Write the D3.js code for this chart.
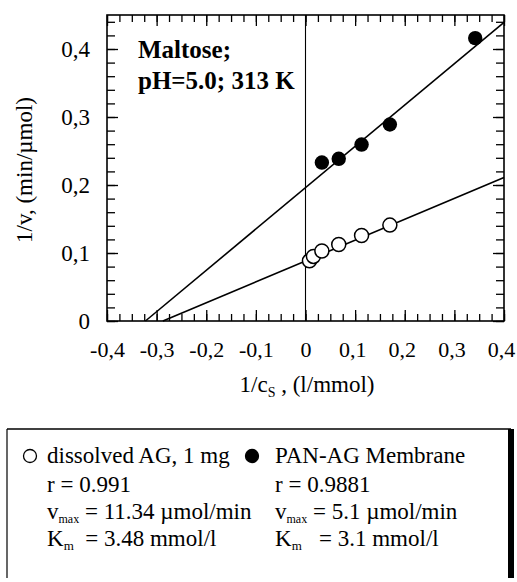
<!DOCTYPE html>
<html>
<head>
<meta charset="utf-8">
<script src="https://cdn.jsdelivr.net/npm/d3@7"></script>
<style>
  html, body { margin: 0; padding: 0; background: #fff; }
  svg { display: block; }
  text { font-family: "Liberation Serif", "Times New Roman", serif; fill: #000; }
</style>
</head>
<body>
<svg id="chart" width="517" height="582"></svg>
<script>
// ---- data ----
const dissolvedX = [0.008, 0.016, 0.033, 0.067, 0.113, 0.170];
const dissolvedY = [0.0885, 0.095, 0.103, 0.1125, 0.1257, 0.141];
const membraneX = [0.033, 0.067, 0.113, 0.170, 0.342];
const membraneY = [0.233, 0.2385, 0.2595, 0.289, 0.416];
// Lineweaver-Burk fit parameters (from legend)
const seriesNames = ["dissolved AG, 1 mg", "PAN-AG Membrane"];
const seriesR = ["0.991", "0.9881"];
const seriesVmax = [11.34, 5.1];
const seriesKm = [3.48, 3.1];
const vmaxText = ["11.34", "5.1"];
const kmText = ["3.48", "3.1"];
const xTickValues = [-0.4, -0.3, -0.2, -0.1, 0, 0.1, 0.2, 0.3, 0.4];
const xTickLabels = ["-0,4", "-0,3", "-0,2", "-0,1", "0", "0,1", "0,2", "0,3", "0,4"];
const yTickValues = [0, 0.1, 0.2, 0.3, 0.4];
const yTickLabels = ["0", "0,1", "0,2", "0,3", "0,4"];
const xDomain = [-0.4, 0.4];
const yDomain = [0, 0.45];

// ---- layout ----
const L = 107, R = 504, T = 15, B = 321;
const svg = d3.select("#chart");
const x = d3.scaleLinear().domain(xDomain).range([L, R]);
const y = d3.scaleLinear().domain(yDomain).range([B, T]);

const xMinor = d3.range(-16, 17).map(i => +(i * 0.025).toFixed(3));
const yMinor = d3.range(0, 23).map(i => +(i * 0.02).toFixed(3));

function tickStyle(g) {
  g.select(".domain").remove();
  g.selectAll("line").attr("stroke", "#000").attr("stroke-width", 1.3);
}
// minor ticks (inward)
svg.append("g").attr("transform", `translate(0,${B})`)
  .call(d3.axisBottom(x).tickValues(xMinor).tickSize(-7).tickFormat("")).call(tickStyle);
svg.append("g").attr("transform", `translate(0,${T})`)
  .call(d3.axisTop(x).tickValues(xMinor).tickSize(-7).tickFormat("")).call(tickStyle);
svg.append("g").attr("transform", `translate(${L},0)`)
  .call(d3.axisLeft(y).tickValues(yMinor).tickSize(-8).tickFormat("")).call(tickStyle);
svg.append("g").attr("transform", `translate(${R},0)`)
  .call(d3.axisRight(y).tickValues(yMinor).tickSize(-8).tickFormat("")).call(tickStyle);
// major ticks
svg.append("g").attr("transform", `translate(0,${B})`)
  .call(d3.axisBottom(x).tickValues(xTickValues).tickSize(-11).tickFormat("")).call(tickStyle);
svg.append("g").attr("transform", `translate(0,${T})`)
  .call(d3.axisTop(x).tickValues(xTickValues).tickSize(-11).tickFormat("")).call(tickStyle);
svg.append("g").attr("transform", `translate(${L},0)`)
  .call(d3.axisLeft(y).tickValues(yTickValues).tickSize(-11).tickFormat("")).call(tickStyle);
svg.append("g").attr("transform", `translate(${R},0)`)
  .call(d3.axisRight(y).tickValues(yTickValues).tickSize(-11).tickFormat("")).call(tickStyle);

// tick labels
const xl = svg.append("g").attr("transform", `translate(0,${B})`)
  .call(d3.axisBottom(x).tickValues(xTickValues).tickSize(0).tickPadding(20)
    .tickFormat((d, i) => xTickLabels[i]));
xl.select(".domain").remove();
xl.selectAll("text").attr("font-size", 22).attr("font-family", "Liberation Serif")
  .attr("dx", d => d > 0 ? -3 : 0);
const yl = svg.append("g").attr("transform", `translate(${L},0)`)
  .call(d3.axisLeft(y).tickValues(yTickValues).tickSize(0).tickPadding(17)
    .tickFormat((d, i) => yTickLabels[i]));
yl.select(".domain").remove();
yl.selectAll("text").attr("font-size", 23).attr("font-family", "Liberation Serif");

// frame
svg.append("rect").attr("x", L).attr("y", T).attr("width", R - L).attr("height", B - T)
  .attr("fill", "none").attr("stroke", "#000").attr("stroke-width", 1.6);
// x = 0 line
svg.append("line").attr("x1", x(0)).attr("x2", x(0)).attr("y1", B).attr("y2", T)
  .attr("stroke", "#000").attr("stroke-width", 1.1);

// fit lines
seriesVmax.forEach((vm, i) => {
  const km = seriesKm[i];
  const f = xv => 1 / vm + (km / vm) * xv;
  const x0 = -1 / km, x1 = xDomain[1];
  svg.append("line").attr("x1", x(x0)).attr("y1", y(f(x0)))
    .attr("x2", x(x1)).attr("y2", y(f(x1)))
    .attr("stroke", "#000").attr("stroke-width", 1.6);
});

// points
svg.append("g").selectAll("circle").data(dissolvedX).join("circle")
  .attr("cx", d => x(d)).attr("cy", (d, i) => y(dissolvedY[i])).attr("r", 7)
  .attr("fill", "#fff").attr("stroke", "#000").attr("stroke-width", 1.5);
svg.append("g").selectAll("circle").data(membraneX).join("circle")
  .attr("cx", d => x(d)).attr("cy", (d, i) => y(membraneY[i])).attr("r", 7.2)
  .attr("fill", "#000");

// annotation
svg.append("text").attr("x", 138).attr("y", 58).attr("font-size", 25).attr("font-weight", "bold").text("Maltose;");
svg.append("text").attr("x", 138).attr("y", 89).attr("font-size", 25).attr("font-weight", "bold").text("pH=5.0; 313 K");

// axis titles
const yt = svg.append("text").attr("transform", "translate(32,170) rotate(-90)")
  .attr("text-anchor", "middle").attr("font-size", 23);
yt.text("1/v, (min/µmol)");
const xt = svg.append("text").attr("x", 307).attr("y", 392).attr("text-anchor", "middle").attr("font-size", 23);
xt.append("tspan").text("1/c");
xt.append("tspan").attr("font-size", 14).attr("dy", 5).text("S");
xt.append("tspan").attr("dy", -5).text(" , (l/mmol)");

// legend box
const LB = { x: 7, y: 429, r: 511, b: 578 };
svg.append("line").attr("x1", LB.x).attr("x2", LB.r).attr("y1", LB.y).attr("y2", LB.y).attr("stroke", "#000").attr("stroke-width", 1.5);
svg.append("line").attr("x1", LB.x).attr("x2", LB.x).attr("y1", LB.y).attr("y2", LB.b).attr("stroke", "#000").attr("stroke-width", 1.2);
svg.append("line").attr("x1", LB.r).attr("x2", LB.r).attr("y1", LB.y).attr("y2", LB.b).attr("stroke", "#000").attr("stroke-width", 6);

const colX = [47, 275];
const markX = [30, 252];
const rowY = [463, 492, 519, 546];
const fs = 23;
seriesNames.forEach((name, i) => {
  svg.append("circle").attr("cx", markX[i]).attr("cy", rowY[0] - 7).attr("r", 6.5)
    .attr("fill", i === 0 ? "#fff" : "#000").attr("stroke", "#000").attr("stroke-width", 1.3);
  svg.append("text").attr("x", colX[i]).attr("y", rowY[0]).attr("font-size", fs).text(name);
  svg.append("text").attr("x", colX[i]).attr("y", rowY[1]).attr("font-size", fs).text("r = " + seriesR[i]);
  const v = svg.append("text").attr("x", colX[i]).attr("y", rowY[2]).attr("font-size", fs);
  v.append("tspan").text("v");
  v.append("tspan").attr("font-size", 12).attr("dy", 4).text("max");
  v.append("tspan").attr("dy", -4).text(" = " + vmaxText[i] + " µmol/min");
  const k = svg.append("text").attr("x", colX[i]).attr("y", rowY[3]).attr("font-size", fs);
  k.append("tspan").text("K");
  k.append("tspan").attr("font-size", 13).attr("dy", 4).text("m");
  k.append("tspan").attr("dy", -4).attr("xml:space", "preserve").style("white-space", "pre")
    .text((i === 0 ? "  = " : "   = ") + kmText[i] + " mmol/l");
});
</script>
</body>
</html>
